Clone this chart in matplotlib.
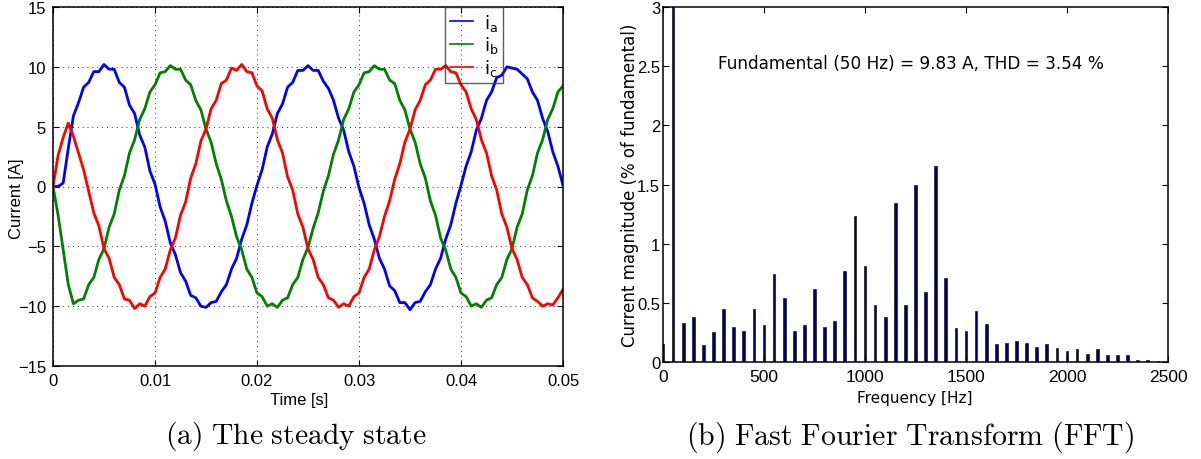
import numpy as np
import matplotlib.pyplot as plt

t = np.linspace(0, 0.05, 101)
ia = [0.0, 0.0, 0.3, 3.2, 5.9, 7.0, 8.3, 8.7, 9.6, 9.6,
      10.2, 9.8, 9.8, 8.7, 8.3, 6.8, 6.1, 4.3, 3.3, 1.3,
      0.2, -1.7, -2.9, -4.7, -5.7, -7.2, -7.9, -9.1, -9.3, -10.0,
      -10.1, -9.7, -9.6, -8.8, -8.2, -6.9, -6.0, -4.4, -3.2, -1.4,
      0.1, 1.4, 3.3, 4.4, 6.1, 6.9, 8.3, 8.7, 9.7, 9.7,
      10.1, 9.7, 9.7, 8.8, 8.2, 7.2, 5.7, 4.7, 2.9, 1.7,
      -0.1, -1.4, -3.2, -4.4, -6.0, -6.9, -8.3, -8.7, -9.7, -9.7,
      -10.3, -9.7, -9.6, -8.8, -8.2, -6.9, -6.0, -4.4, -3.2, -1.4,
      0.1, 1.7, 2.9, 4.7, 5.7, 7.2, 7.9, 9.1, 9.3, 10.0,
      9.9, 9.8, 9.4, 9.0, 7.9, 7.2, 5.7, 4.6, 2.9, 1.7,
      0.1]
ib = [0.0, -2.4, -5.3, -8.2, -9.8, -9.5, -9.4, -8.2, -7.6, -6.1,
      -5.2, -3.4, -2.3, -0.3, 0.9, 2.8, 3.9, 5.6, 6.5, 7.9,
      8.5, 9.5, 9.6, 10.1, 9.8, 9.8, 8.9, 8.5, 7.2, 6.4,
      4.8, 3.7, 1.9, 0.6, -1.2, -2.5, -4.2, -5.3, -6.9, -7.6,
      -8.9, -9.2, -10.0, -9.8, -10.1, -9.5, -9.3, -8.2, -7.6, -6.1,
      -5.1, -3.5, -2.2, -0.4, 0.9, 2.7, 3.9, 5.6, 6.5, 7.9,
      8.5, 9.5, 9.6, 10.1, 9.8, 9.8, 8.9, 8.6, 7.2, 6.4,
      4.8, 3.7, 1.9, 0.7, -1.2, -2.4, -4.3, -5.3, -6.9, -7.6,
      -8.9, -9.2, -10.0, -9.8, -10.1, -9.5, -9.3, -8.2, -7.6, -6.1,
      -5.2, -3.4, -2.3, -0.3, 0.9, 2.8, 3.9, 5.6, 6.5, 7.9,
      8.4]
ic = [0.0, 2.6, 4.1, 5.3, 4.2, 2.8, 1.4, -0.4, -2.2, -3.3,
      -5.2, -6.0, -7.6, -8.2, -9.4, -9.5, -10.2, -9.8, -10.0, -9.2,
      -8.9, -7.6, -6.9, -5.3, -4.3, -2.4, -1.3, 0.7, 1.9, 3.8,
      4.8, 6.5, 7.2, 8.6, 8.9, 9.9, 9.7, 10.2, 9.6, 9.5,
      8.4, 8.0, 6.5, 5.7, 3.9, 2.8, 0.8, -0.3, -2.3, -3.4,
      -5.2, -6.1, -7.6, -8.2, -9.3, -9.5, -10.1, -9.8, -10.0, -9.2,
      -8.9, -7.6, -6.9, -5.3, -4.2, -2.5, -1.2, 0.6, 1.9, 3.7,
      4.8, 6.4, 7.2, 8.5, 8.9, 9.8, 9.8, 10.1, 9.6, 9.5,
      8.5, 7.9, 6.5, 5.6, 3.9, 2.8, 0.9, -0.3, -2.3, -3.4,
      -5.2, -6.1, -7.6, -8.2, -9.3, -9.6, -10.0, -9.8, -9.9, -9.3,
      -8.6]

time_ticks = [0, 0.01, 0.02, 0.03, 0.04, 0.05]
time_labels = ['0', '0.01', '0.02', '0.03', '0.04', '0.05']
cur_ticks = [-15, -10, -5, 0, 5, 10, 15]

# harmonic spectrum, % of fundamental, every 50 Hz
freq = np.arange(0, 2500, 50)
mag = [0.15, 100.0, 0.33, 0.38, 0.14, 0.25, 0.45, 0.30, 0.26, 0.45,
       0.31, 0.74, 0.54, 0.26, 0.31, 0.62, 0.30, 0.35, 0.77, 1.23,
       0.81, 0.48, 0.38, 1.34, 0.48, 1.50, 0.59, 1.66, 0.71, 0.29,
       0.26, 0.43, 0.32, 0.15, 0.16, 0.18, 0.16, 0.13, 0.15, 0.12,
       0.09, 0.11, 0.07, 0.11, 0.06, 0.06, 0.06, 0.02, 0.02, 0.005]
fft_yticks = [0, 0.5, 1, 1.5, 2, 2.5, 3]
fft_ylabels = ['0', '0.5', '1', '1.5', '2', '2.5', '3']
fft_xticks = [0, 500, 1000, 1500, 2000, 2500]

W, H = 1201, 460
fig = plt.figure(figsize=(W / 100, H / 100), dpi=100)
ax1 = fig.add_axes([53 / W, 1 - 367 / H, 510 / W, 359 / H])
ax2 = fig.add_axes([663 / W, 1 - 363 / H, 505 / W, 355 / H])

for ax in (ax1, ax2):
    ax.tick_params(direction='in', length=4, width=0.8, top=True, right=True,
                   labelsize=12, pad=5)
    for s in ax.spines.values():
        s.set_linewidth(1.1)

# (a) steady state currents
ax1.plot(t, ia, color='#0000ff', lw=2.0, label=r'$\mathregular{i_a}$')
ax1.plot(t, ib, color='#008000', lw=2.0, label=r'$\mathregular{i_b}$')
ax1.plot(t, ic, color='#ff0000', lw=2.0, label=r'$\mathregular{i_c}$')
ax1.set_xlim(0, 0.05)
ax1.set_ylim(-15, 15)
ax1.set_xticks(time_ticks)
ax1.set_xticklabels(time_labels, family='Liberation Sans')
ax1.set_yticks(cur_ticks)
ax1.set_yticklabels([str(v).replace('-', '\u2212') for v in cur_ticks],
                    family='Liberation Sans')
ax1.grid(True, color='#333333', lw=0.7, linestyle=(0, (1, 4)))
ax1.set_xlabel('Time [s]', family='Liberation Sans', fontsize=12)
ax1.set_ylabel('Current [A]', family='Liberation Sans', fontsize=12)
ax1.xaxis.set_label_coords(0.483, -0.092)
ax1.xaxis.label.set_va('center')
ax1.yaxis.set_label_coords(-0.072, 0.47)
ax1.yaxis.label.set_va('center')
leg = ax1.legend(loc='upper right', bbox_to_anchor=(450 / 510, 1.0),
                 borderaxespad=0, fancybox=False, edgecolor='#333333',
                 handlelength=1.3, fontsize=13, labelspacing=0.1,
                 borderpad=0.25, handletextpad=0.6)
leg.get_frame().set_facecolor('none')
leg.get_frame().set_linewidth(1.0)
for h in leg.get_lines():
    h.set_linewidth(1.2)

# (b) FFT
ax2.bar(freq, mag, width=13, color='#000070', edgecolor='#1a1a1a', lw=0.5)
ax2.set_xlim(0, 2500)
ax2.set_ylim(0, 3)
ax2.set_xticks(fft_xticks)
ax2.set_xticklabels([str(v) for v in fft_xticks], family='Liberation Sans',
                    fontsize=12.5)
ax2.set_yticks(fft_yticks)
ax2.set_yticklabels(fft_ylabels, family='Liberation Sans', fontsize=12)
ax2.tick_params(axis='y', pad=2)
ax2.set_xlabel('Frequency [Hz]', family='DejaVu Sans', fontsize=11)
ax2.set_ylabel('Current magnitude (% of fundamental)', family='DejaVu Sans',
               fontsize=12)
ax2.xaxis.set_label_coords(0.499, -0.099)
ax2.xaxis.label.set_va('center')
ax2.yaxis.set_label_coords(-0.066, 0.5)
ax2.yaxis.label.set_va('center')
ax2.text(272, 2.53, 'Fundamental (50 Hz) = 9.83 A, THD = 3.54 %',
         family='DejaVu Sans', fontsize=12.2, va='center', ha='left')

fig.text(296 / W, 1 - 437 / H, r'$\mathrm{(a)\ The\ steady\ state}$',
         math_fontfamily='cm', fontsize=21.3, ha='center', va='center')
fig.text(910 / W, 1 - 437 / H,
         r'$\mathrm{(b)\ Fast\ Fourier\ Transform\ (FFT)}$',
         math_fontfamily='cm', fontsize=21.5, ha='center', va='center')

fig.savefig('out.png', dpi=100)
